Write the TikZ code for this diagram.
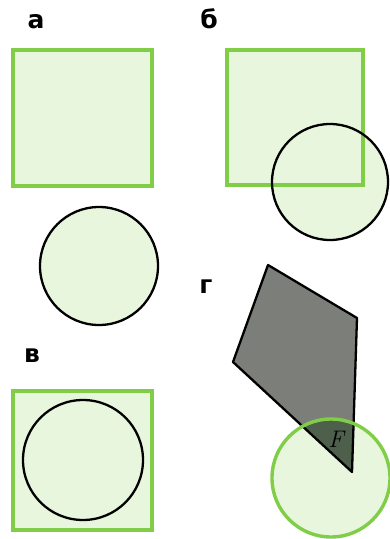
\documentclass[tikz,border=0pt]{standalone}
\usepackage{fontspec}
\newfontfamily\labelfont{DejaVu Sans}
\usepackage{xcolor}
\definecolor{leafline}{RGB}{128,206,72}
\definecolor{leaffill}{RGB}{233,246,222}
\definecolor{shapegray}{RGB}{124,126,122}
\definecolor{shapedark}{RGB}{78,96,76}

\begin{document}
\begin{tikzpicture}[x=1pt, y=-1pt,
		letter/.style={font=\labelfont\bfseries\fontsize{25}{25}\selectfont, inner sep=0pt, anchor=base},
		sq/.style={draw=leafline, line width=3.4pt, fill=leaffill},
		ring/.style={draw=black, line width=2.3pt, fill=leaffill}]
		\useasboundingbox (0,0) rectangle (390,539);
		
		% а
		\node[letter] (la) at (36,28) {а};
		\draw[sq] (13,50) rectangle (152,186);
		\draw[ring] (99,266) circle[radius=59pt];
		
		% б
		\node[letter] (lb) at (209,28) {б};
		\fill[leaffill] (227,50) rectangle (363,185);
		\fill[leaffill] (330,182) circle[radius=58pt];
		\draw[sq, fill=none] (227,50) rectangle (363,185);
		\draw[ring, fill=none] (330,182) circle[radius=58pt];
		
		% в
		\node[letter] (lc) at (32,362) {в};
		\draw[sq] (13,391) rectangle (152,530);
		\draw[ring] (83,460) circle[radius=60pt];
		
		% г
		\node[letter] (ld) at (206,293) {г};
		\fill[leaffill] (331,478) circle[radius=59pt];
		\fill[shapegray] (268,265) -- (357,318) -- (352,472) -- (233,362) -- cycle;
		\begin{scope}
			\clip (331,478) circle[radius=59pt];
			\fill[shapedark] (268,265) -- (357,318) -- (352,472) -- (233,362) -- cycle;
		\end{scope}
		\draw[line width=2.3pt, line join=round] (268,265) -- (357,318) -- (352,472) -- (233,362) -- cycle;
		\draw[leafline, line width=3.4pt] (331,478) circle[radius=59pt];
		\node[font=\itshape\fontsize{24}{24}\selectfont, inner sep=0pt, anchor=base] (lf) at (336,447) {F};
	\end{tikzpicture}
\end{document}
